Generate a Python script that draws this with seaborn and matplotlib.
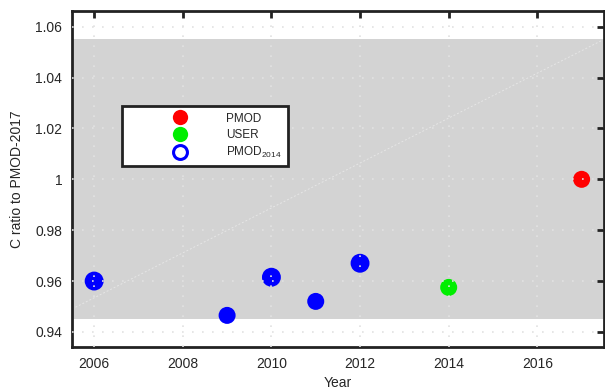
import numpy as np
import pandas as pd
import matplotlib
matplotlib.use('Agg')
from matplotlib import pyplot as plt
from matplotlib.lines import Line2D
import seaborn as sns

# values
years = [2006, 2009, 2010, 2011, 2012, 2014, 2017]
ratio = [0.960, 0.9465, 0.9615, 0.952, 0.967, 0.9575, 1.000]
colours = ['blue', 'blue', 'blue', 'blue', 'blue', '#00ee00', 'red']
open_years = [2006, 2010, 2012]
open_ratio = [0.960, 0.9615, 0.967]
band = [0.945, 1.055]
trend_x = [2005.5, 2017.5]
trend_y = [0.949, 1.055]
xticks = [2006, 2008, 2010, 2012, 2014, 2016]
yticks = [0.94, 0.96, 0.98, 1.0, 1.02, 1.04, 1.06]
ytick_labels = ['0.94', '0.96', '0.98', '1', '1.02', '1.04', '1.06']

df = pd.DataFrame({'year': years, 'ratio': ratio, 'colour': colours})

sns.set_style('white')
plt.rcParams['font.family'] = ['Liberation Sans', 'DejaVu Sans']

fig = plt.figure(figsize=(6.05, 3.92), dpi=100)
ax = fig.add_axes([0.119, 0.115, 0.879, 0.857])

ax.axhspan(band[0], band[1], color='#d3d3d3', lw=0, zorder=0)
ax.plot(trend_x, trend_y, color='#e6e6e6', lw=0.7, ls=(0, (2, 2)), zorder=0.5)

sns.scatterplot(data=df, x='year', y='ratio', hue='colour', palette={c: c for c in set(colours)},
                s=150, linewidth=0, legend=False, ax=ax, zorder=1)
ax.scatter(open_years, open_ratio, s=130, facecolors='none', edgecolors='blue', linewidths=2.2, zorder=1.2)

ax.set_xlim(2005.5, 2017.5)
ax.set_ylim(0.9341, 1.0662)
ax.set_xticks(xticks)
ax.set_yticks(yticks)
ax.set_yticklabels(ytick_labels)
ax.tick_params(direction='in', length=5, width=2, top=True, right=True,
               labeltop=False, labelright=False, labelsize=10, color='#222222', pad=7)
for sp in ax.spines.values():
    sp.set_linewidth(2)
    sp.set_color('#222222')

ax.set_axisbelow(False)
ax.grid(True, ls=(0, (1, 5)), color='#e2e2e2', lw=1.2)

ax.set_xlabel('Year', fontsize=10, labelpad=4)
ax.set_ylabel('C ratio to PMOD-2017', fontsize=10, labelpad=8)

handles = [
    Line2D([], [], marker='o', ls='', color='red', markersize=11, markeredgewidth=0),
    Line2D([], [], marker='o', ls='', color='#00ee00', markersize=11, markeredgewidth=0),
    Line2D([], [], marker='o', ls='', markerfacecolor='none', markeredgecolor='blue',
           markersize=10, markeredgewidth=2.2),
]
labels = ['PMOD', 'USER', r'PMOD$_{\mathregular{2014}}$']
leg = ax.legend(handles, labels, loc='upper left', bbox_to_anchor=(0.094, 0.717),
                frameon=True, fancybox=False, fontsize=8.5, handlelength=8.7,
                handletextpad=-0.4, borderpad=0.55, labelspacing=0.35, borderaxespad=0)
leg.get_frame().set_edgecolor('#222222')
leg.get_frame().set_linewidth(2)
leg.get_frame().set_alpha(1)
leg.set_zorder(5)

plt.savefig('out.png', dpi=100)
